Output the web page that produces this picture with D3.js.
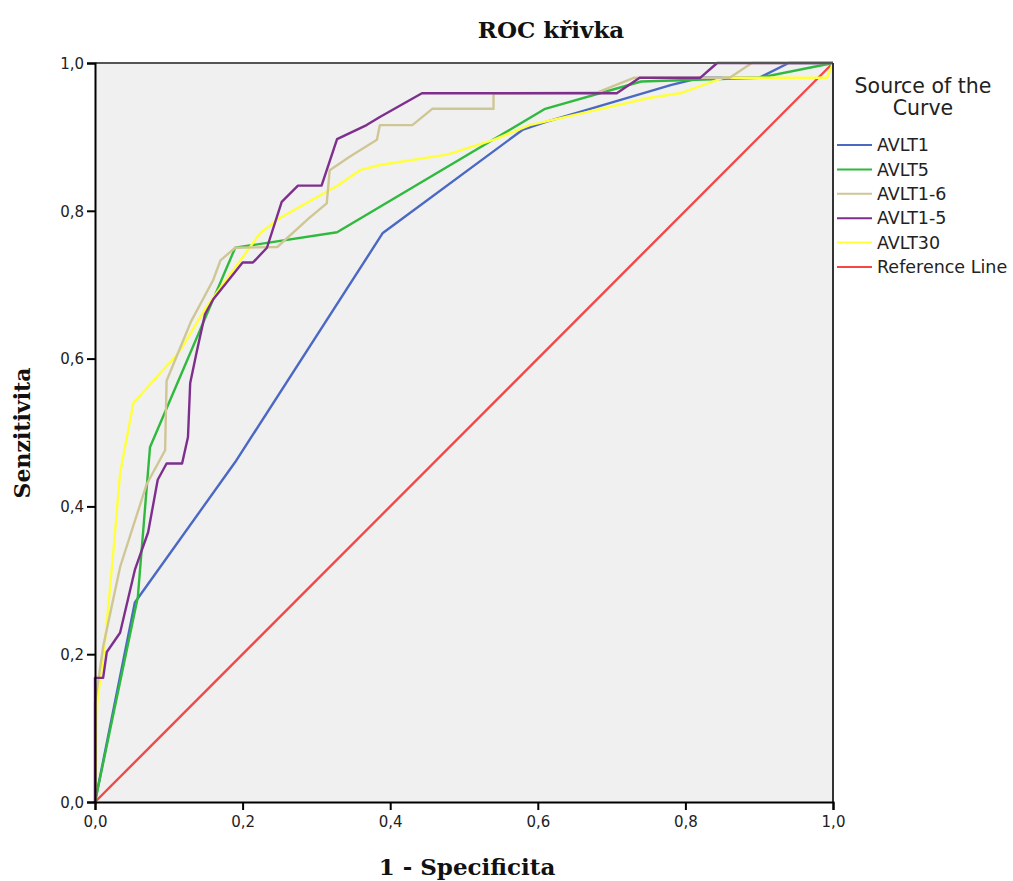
<!DOCTYPE html>
<html>
<head>
<meta charset="utf-8">
<script src="https://cdn.jsdelivr.net/npm/d3@7"></script>
<style>
  body { margin: 0; background: #fff; }
  svg { display: block; }
</style>
</head>
<body>
<div id="chart"></div>
<script>
// ROC curves, [1 - specificity, sensitivity]
const avlt1 = [[0, 0], [0.054, 0.27], [0.19, 0.46], [0.39, 0.77], [0.58, 0.91], [0.61, 0.92],
    [0.78, 0.97], [0.82, 0.98], [0.9, 0.98], [0.94, 1.0], [1, 1]];
const avlt5 = [[0, 0], [0.058, 0.277], [0.0745, 0.48], [0.19, 0.75], [0.328, 0.771], [0.61, 0.938],
    [0.74, 0.975], [0.9, 0.98], [1, 1]];
const avlt16 = [[0, 0], [0, 0.134], [0.011, 0.21], [0.034, 0.318], [0.07, 0.43], [0.095, 0.476],
    [0.097, 0.57], [0.13, 0.65], [0.16, 0.706], [0.17, 0.733], [0.19, 0.75], [0.247, 0.751],
    [0.29, 0.79], [0.314, 0.81], [0.318, 0.855], [0.345, 0.873], [0.382, 0.896], [0.386, 0.916],
    [0.43, 0.916], [0.457, 0.938], [0.54, 0.938], [0.54, 0.959], [0.68, 0.96], [0.73, 0.98],
    [0.86, 0.98], [0.89, 1.0], [1, 1]];
const avlt15 = [[0, 0], [0, 0.168], [0.011, 0.168], [0.016, 0.203], [0.034, 0.229], [0.054, 0.314],
    [0.072, 0.365], [0.085, 0.436], [0.097, 0.458], [0.118, 0.458], [0.126, 0.494], [0.129, 0.567],
    [0.138, 0.61], [0.149, 0.66], [0.16, 0.68], [0.2, 0.73], [0.214, 0.73], [0.233, 0.75],
    [0.253, 0.812], [0.275, 0.834], [0.307, 0.834], [0.328, 0.897], [0.368, 0.916], [0.386, 0.927],
    [0.443, 0.959], [0.707, 0.959], [0.738, 0.98], [0.82, 0.98], [0.843, 1.0], [1, 1]];
const avlt30 = [[0, 0], [0.003, 0.134], [0.013, 0.21], [0.025, 0.34], [0.034, 0.445], [0.052, 0.54],
    [0.115, 0.61], [0.151, 0.67], [0.224, 0.77], [0.25, 0.79], [0.33, 0.835], [0.359, 0.855],
    [0.386, 0.862], [0.477, 0.876], [0.54, 0.896], [0.589, 0.916], [0.752, 0.953], [0.793, 0.959],
    [0.851, 0.98], [0.992, 0.98], [1, 1]];
const refLine = [[0, 0], [1, 1]];

const seriesNames = ['AVLT1', 'AVLT5', 'AVLT1-6', 'AVLT1-5', 'AVLT30', 'Reference Line'];
const seriesData = [avlt1, avlt5, avlt16, avlt15, avlt30, refLine];
const seriesColors = ['#4a68c4', '#2fba3e', '#cfc696', '#7e2f8e', '#ffff3c', '#f44848'];
// draw order: reference line first, purple on top
const drawOrder = [5, 0, 1, 4, 2, 3];

const ticks = [0, 0.2, 0.4, 0.6, 0.8, 1.0];
const fmt = d => d3.format('.1f')(d).replace('.', ',');

const width = 1013;
const height = 881;
const plot = { left: 95, right: 833, top: 63, bottom: 802 };

const svg = d3.select('#chart').append('svg')
    .attr('width', width)
    .attr('height', height);

const x = d3.scaleLinear().domain([0, 1]).range([plot.left, plot.right]);
const y = d3.scaleLinear().domain([0, 1]).range([plot.bottom, plot.top]);

svg.append('rect')
    .attr('x', plot.left)
    .attr('y', plot.top)
    .attr('width', plot.right - plot.left)
    .attr('height', plot.bottom - plot.top)
    .attr('fill', '#f0f0f0');

const line = d3.line().x(d => x(d[0])).y(d => y(d[1]));

drawOrder.forEach((i) => {
    svg.append('path')
        .datum(seriesData[i])
        .attr('d', line)
        .attr('fill', 'none')
        .attr('stroke', seriesColors[i])
        .attr('stroke-width', 2.4)
        .attr('stroke-linejoin', 'round');
});

// frame top / right
svg.append('line')
    .attr('x1', plot.left).attr('x2', plot.right)
    .attr('y1', plot.top).attr('y2', plot.top)
    .attr('stroke', '#555').attr('stroke-width', 2);
svg.append('line')
    .attr('x1', plot.right).attr('x2', plot.right)
    .attr('y1', plot.top).attr('y2', plot.bottom)
    .attr('stroke', '#333').attr('stroke-width', 2);

const xAxis = svg.append('g')
    .attr('transform', `translate(0,${plot.bottom})`)
    .call(d3.axisBottom(x).tickValues(ticks).tickFormat(fmt).tickSizeOuter(0).tickSize(8).tickPadding(6));
const yAxis = svg.append('g')
    .attr('transform', `translate(${plot.left},0)`)
    .call(d3.axisLeft(y).tickValues(ticks).tickFormat(fmt).tickSizeOuter(0).tickSize(8).tickPadding(3));

[xAxis, yAxis].forEach((g) => {
    g.select('.domain').attr('stroke', '#000').attr('stroke-width', 2);
    g.selectAll('.tick line').attr('stroke', '#000').attr('stroke-width', 2);
    g.selectAll('.tick text')
        .attr('fill', '#222')
        .style('font-family', '"DejaVu Sans", sans-serif')
        .style('font-size', '15px');
});
yAxis.selectAll('.tick text').attr('dy', '0.35em');

// titles
const serif = '"DejaVu Serif", serif';
svg.append('text')
    .text('ROC křivka')
    .attr('x', 551)
    .attr('y', 38)
    .attr('text-anchor', 'middle')
    .style('font-family', serif)
    .style('font-size', '23px')
    .style('font-weight', 'bold')
    .attr('fill', '#111');

svg.append('text')
    .text('1 - Specificita')
    .attr('x', 467)
    .attr('y', 875)
    .attr('text-anchor', 'middle')
    .style('font-family', serif)
    .style('font-size', '23px')
    .style('font-weight', 'bold')
    .attr('fill', '#111');

svg.append('text')
    .text('Senzitivita')
    .attr('transform', 'translate(30,433) rotate(-90)')
    .attr('text-anchor', 'middle')
    .style('font-family', serif)
    .style('font-size', '22px')
    .style('font-weight', 'bold')
    .attr('fill', '#111');

// legend
const legend = svg.append('g');
['Source of the', 'Curve'].forEach((t, i) => {
    legend.append('text')
        .text(t)
        .attr('x', 923)
        .attr('y', 93 + i * 22)
        .attr('text-anchor', 'middle')
        .style('font-family', '"DejaVu Sans", sans-serif')
        .style('font-size', '20.5px')
        .attr('fill', '#222');
});

const legendY = d3.scalePoint().domain(seriesNames).range([145, 267]);
seriesNames.forEach((name, i) => {
    legend.append('line')
        .attr('x1', 837).attr('x2', 872)
        .attr('y1', legendY(name)).attr('y2', legendY(name))
        .attr('stroke', seriesColors[i])
        .attr('stroke-width', 2);
    legend.append('text')
        .text(name)
        .attr('x', 877)
        .attr('y', legendY(name))
        .attr('dy', '0.35em')
        .style('font-family', '"DejaVu Sans", sans-serif')
        .style('font-size', '17.5px')
        .attr('fill', '#222');
});
</script>
</body>
</html>
